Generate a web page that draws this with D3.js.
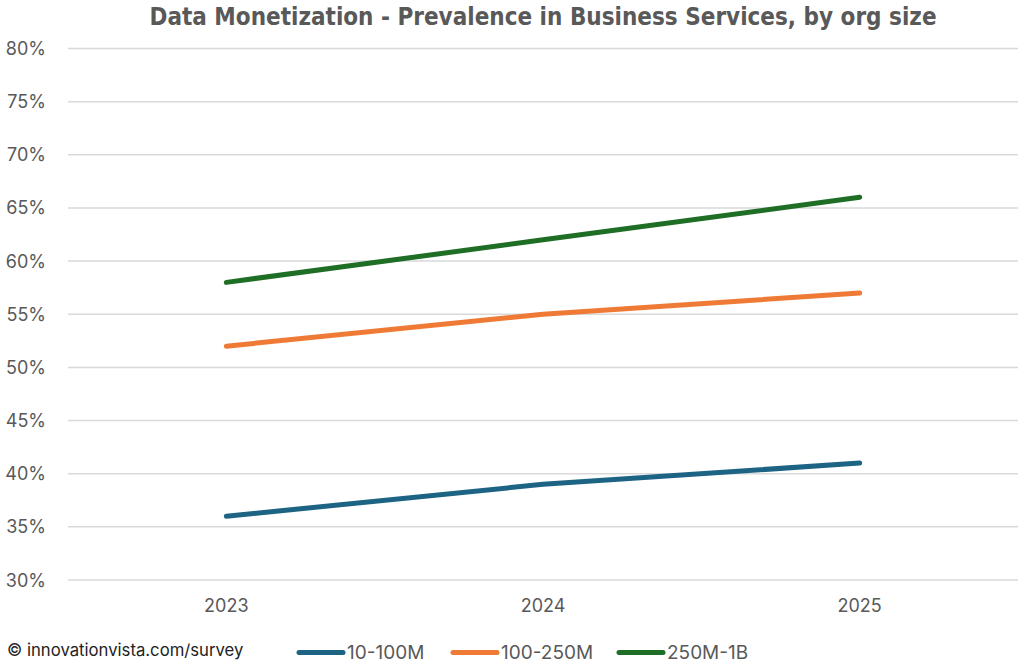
<!DOCTYPE html>
<html>
<head>
<meta charset="utf-8">
<script src="https://cdn.jsdelivr.net/npm/d3@7"></script>
<style>
  body { margin: 0; background: #fff; }
  .narrow { font-family: "Liberation Sans Narrow", "DejaVu Sans Condensed", sans-serif; font-stretch: condensed; }
  .reg { font-family: Inter, Roboto, sans-serif; }
</style>
</head>
<body>
<div id="content"></div>
<script>
// data
const years = ["2023", "2024", "2025"];
const small = [36, 39, 41];      // 10-100M
const mid = [52, 55, 57];        // 100-250M
const large = [58, 62, 66];      // 250M-1B
const seriesNames = ["10-100M", "100-250M", "250M-1B"];
const seriesColors = ["#1c6384", "#ee7a35", "#1f6e26"];
const yTicks = [30, 35, 40, 45, 50, 55, 60, 65, 70, 75, 80];

const W = 1024, H = 663;
const m = {left: 68, right: 6, top: 48.5, bottom: 83};

const svg = d3.select("#content").append("svg")
    .attr("width", W)
    .attr("height", H);

const x = d3.scaleBand().domain(years).range([m.left, W - m.right]);
const y = d3.scaleLinear().domain([30, 80]).range([H - m.bottom, m.top]);

// gridlines
svg.append("g")
    .selectAll("line")
    .data(yTicks)
    .enter().append("line")
    .attr("x1", m.left).attr("x2", W - m.right)
    .attr("y1", d => y(d)).attr("y2", d => y(d))
    .style("stroke", "#d9d9d9")
    .style("stroke-width", 1.5);

// y labels
svg.append("g")
    .selectAll("text")
    .data(yTicks)
    .enter().append("text")
    .attr("class", "reg")
    .attr("x", 46)
    .attr("y", d => y(d) + 6.5)
    .attr("text-anchor", "end")
    .style("font-size", "18px")
    .style("fill", "#595959")
    .text(d => d + "%");

// x labels
svg.append("g")
    .selectAll("text")
    .data(years)
    .enter().append("text")
    .attr("class", "reg")
    .attr("x", d => x(d) + x.bandwidth() / 2)
    .attr("y", 612)
    .attr("text-anchor", "middle")
    .style("font-size", "18px")
    .style("fill", "#595959")
    .text(d => d);

// lines
const line = d3.line()
    .x((d, i) => x(years[i]) + x.bandwidth() / 2)
    .y(d => y(d));

svg.append("g")
    .selectAll("path")
    .data([small, mid, large])
    .enter().append("path")
    .attr("d", line)
    .style("fill", "none")
    .style("stroke", (d, i) => seriesColors[i])
    .style("stroke-width", 5)
    .style("stroke-linecap", "round")
    .style("stroke-linejoin", "round");

// title
svg.append("text")
    .attr("class", "narrow")
    .attr("x", 543)
    .attr("y", 25)
    .attr("text-anchor", "middle")
    .style("font-size", "24px")
    .style("font-weight", "bold")
    .style("fill", "#595959")
    .text("Data Monetization - Prevalence in Business Services, by org size");

// footer
svg.append("text")
    .attr("class", "reg")
    .attr("x", 7)
    .attr("y", 656)
    .style("font-size", "16.7px")
    .style("fill", "#222")
    .text("© innovationvista.com/survey");

// legend
const legX = [297, 451, 617];
const leg = svg.append("g")
    .selectAll("g")
    .data(seriesNames)
    .enter().append("g")
    .attr("transform", (d, i) => `translate(${legX[i]},652.5)`);

leg.append("line")
    .attr("x1", 2).attr("x2", 46)
    .style("stroke", (d, i) => seriesColors[i])
    .style("stroke-width", 5)
    .style("stroke-linecap", "round");

leg.append("text")
    .attr("class", "reg")
    .attr("x", 50)
    .attr("y", 6.5)
    .style("font-size", "19px")
    .style("fill", "#595959")
    .text(d => d);
</script>
</body>
</html>
